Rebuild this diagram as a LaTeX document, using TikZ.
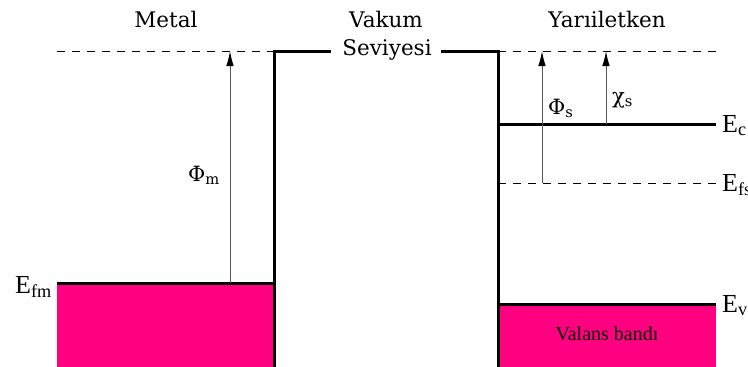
\documentclass[tikz,border=0pt]{standalone}
\usepackage{fontspec}
\usetikzlibrary{arrows.meta}
\newfontfamily\timesfont{LiberationSerif-Regular.ttf}
\newfontfamily\labelfont{DejaVu Serif}
\definecolor{bandpink}{RGB}{255,0,128}

\begin{document}
\begin{tikzpicture}[x=1pt,y=-1pt,
		level/.style={line width=3pt,line join=miter},
		vacuum/.style={dash pattern=on 8pt off 7pt,line width=0.8pt},
		gap/.style={-{Latex[length=15pt,width=7.5pt,black]},draw=black!65,line width=1pt},
		title/.style={font=\labelfont\fontsize{21.5}{24}\selectfont,anchor=base,inner sep=0pt},
		energy/.style={font=\timesfont\fontsize{26}{28}\selectfont,anchor=base west,inner sep=0pt},
		greek/.style={font=\labelfont\fontsize{21}{24}\selectfont,anchor=base west,inner sep=0pt}]
	\useasboundingbox (0,0) rectangle (748,367);
	\coordinate (mL) at (57,51);
	\coordinate (mV) at (274,51);
	\coordinate (mB) at (274,367);
	\coordinate (vL) at (331,51);
	\coordinate (vR) at (441,51);
	\coordinate (sV) at (498,51);
	\coordinate (sB) at (498,367);
	\coordinate (sR) at (716,51);
	\coordinate (fmL) at (57,283);
	\coordinate (fmR) at (274,283);
	\coordinate (cL) at (498,124);
	\coordinate (cR) at (716,124);
	\coordinate (fsL) at (498,183);
	\coordinate (fsR) at (716,183);
	\coordinate (vbL) at (498,304);
	\coordinate (vbR) at (716,304);
	\fill[bandpink] (fmL) rectangle (mB);
	\fill[bandpink] (vbL) rectangle (716,367);
	\draw[vacuum] (mL) -- (mV);
	\draw[vacuum] (sV) -- (sR);
	\draw[vacuum] (fsL) -- (fsR);
	\draw[level] (mB) -- (mV) -- (vL);
	\draw[level] (vR) -- (sV) -- (sB);
	\draw[level] (fmL) -- (fmR);
	\draw[level] (cL) -- (cR);
	\draw[level] (vbL) -- (vbR);
	\coordinate (pm0) at (230,283);
	\coordinate (pm1) at (230,51);
	\coordinate (ps0) at (542,183);
	\coordinate (ps1) at (542,51);
	\coordinate (xs0) at (606,124);
	\coordinate (xs1) at (606,51);
	\draw[gap] (pm0) -- (pm1);
	\draw[gap] (ps0) -- (ps1);
	\draw[gap] (xs0) -- (xs1);
	\node[title] (metal) at (166,27) {Metal};
	\node[title] (vakum) at (386,27) {Vakum};
	\node[title] (seviye) at (387,55) {Seviyesi};
	\node[title] (yari) at (607,27) {Yarıiletken};
	\node[greek] (phim) at (188,181) {Φ\textsubscript{m}};
	\node[greek] (phis) at (548,114) {Φ\textsubscript{s}};
	\node[greek] (chis) at (612,103) {χ\textsubscript{s}};
	\node[energy] (efm) at (15,293) {E\textsubscript{fm}};
	\node[energy] (ec) at (722,132) {E\textsubscript{c}};
	\node[energy] (efs) at (722,191) {E\textsubscript{fs}};
	\node[energy] (ev) at (722,312) {E\textsubscript{v}};
	\node[font=\timesfont\fontsize{20}{22}\selectfont] (valans) at (607,334) {Valans bandı};
\end{tikzpicture}
\end{document}
